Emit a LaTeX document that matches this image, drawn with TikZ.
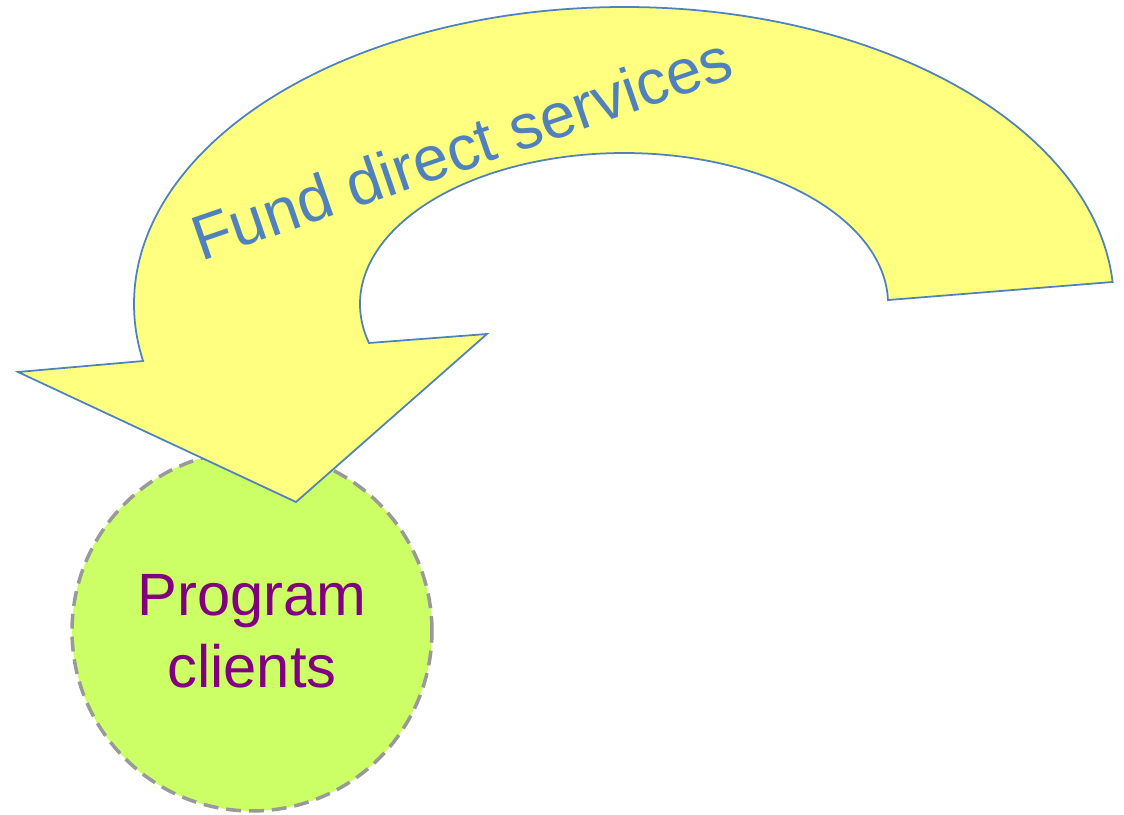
\documentclass[tikz,border=0pt]{standalone}
\usepackage{fontspec}
\setmainfont{Liberation Sans}
\usepackage{tikz}

\definecolor{arcblue}{HTML}{4F81BD}
\definecolor{arcfill}{HTML}{FFFF80}
\definecolor{clientfill}{HTML}{CCFF66}
\definecolor{clientline}{HTML}{999999}
\definecolor{clienttext}{HTML}{800080}

\begin{document}
\begin{tikzpicture}[x=0.02cm, y=0.02cm,
    client/.style = {circle, draw=clientline, fill=clientfill, line width=2pt,
        dash pattern=on 8.5pt off 4.5pt, inner sep=0pt, minimum size=7.2cm,
        align=center, text=clienttext, font=\fontsize{34}{41}\selectfont},
    arrowbody/.style = {draw=arcblue, fill=arcfill, line width=1pt, line join=miter},
    label/.style = {text=arcblue, font=\fontsize{36}{43}\selectfont, anchor=base, rotate=19}]
    \useasboundingbox (0,0) rectangle (1124,814);

    \node[client] (clients) at (252,183) {Program\\clients};

    % curved block arrow
    \coordinate (outerstart) at (1112.6,532);
    \coordinate (leftwing) at (18,442);
    \coordinate (tip) at (296,312);
    \coordinate (rightwing) at (487,480);
    \coordinate (innerstart) at (369,471);
    \draw[arrowbody] (outerstart)
        arc[start angle=4.25, end angle=191.07, x radius=490, y radius=297]
        -- (leftwing) -- (tip) -- (rightwing) -- (innerstart)
        arc[start angle=194.96, end angle=1.5, x radius=264, y radius=151]
        -- cycle;

    \node[label] (fund) at (469,645) {Fund direct services};
\end{tikzpicture}
\end{document}
